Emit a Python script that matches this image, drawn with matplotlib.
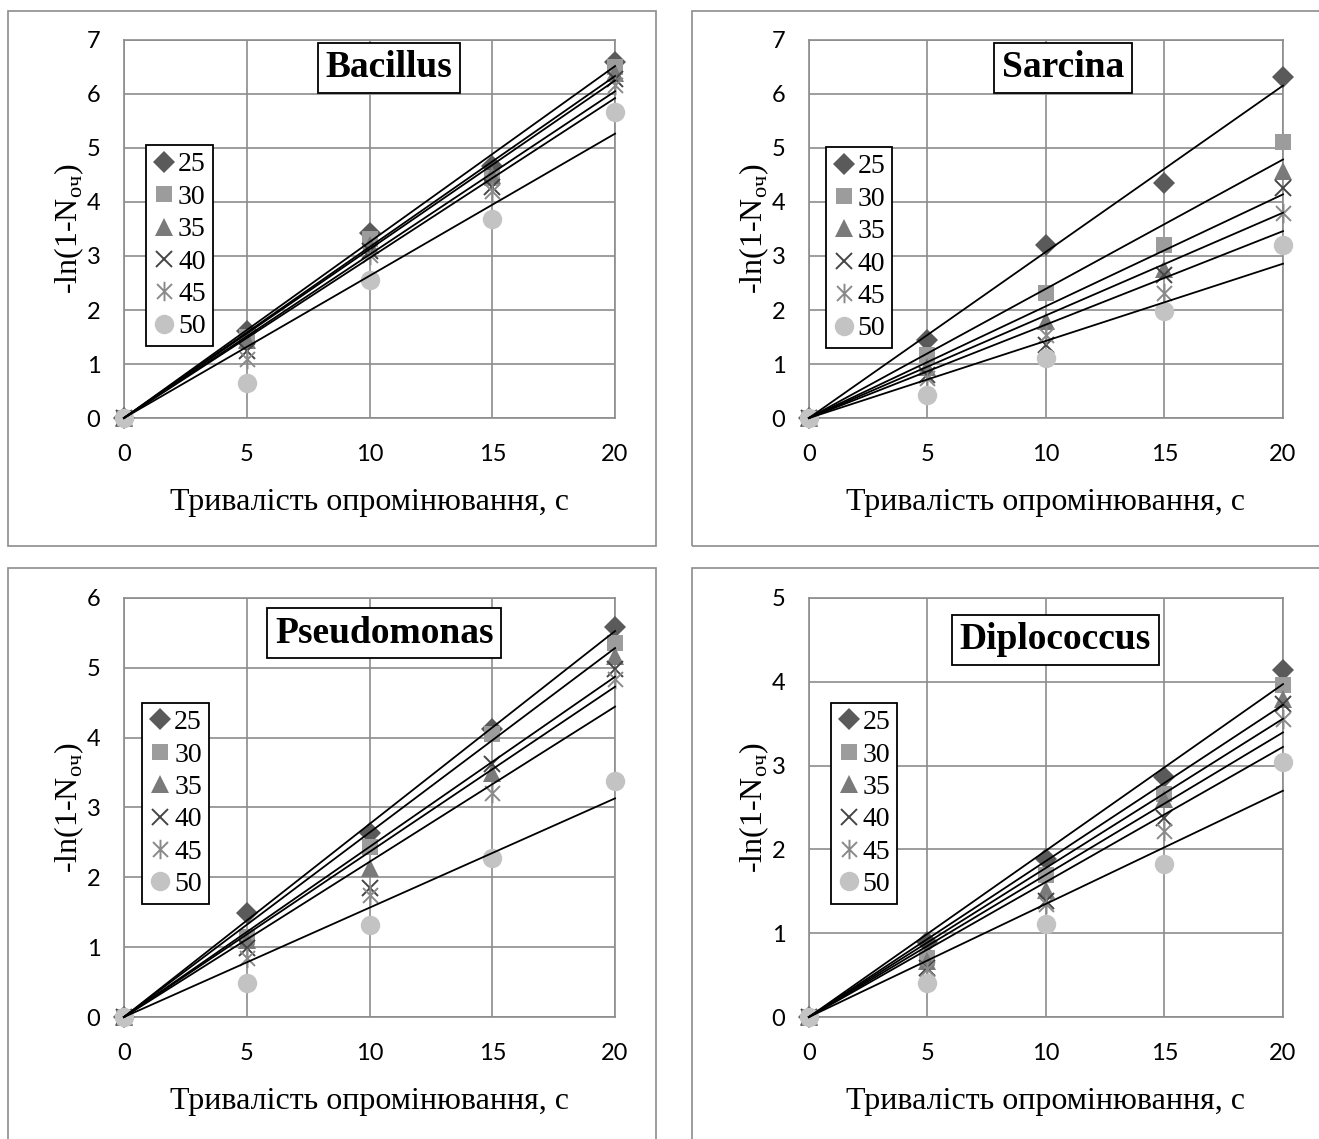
import numpy as np
import matplotlib
matplotlib.use('Agg')
import matplotlib.pyplot as plt
from matplotlib.path import Path
from matplotlib.patches import Rectangle

# exposure time, s
time = [0, 5, 10, 15, 20]
temps = ['25', '30', '35', '40', '45', '50']

bacillus = [
    [0, 1.62, 3.42, 4.67, 6.60],
    [0, 1.50, 3.32, 4.45, 6.50],
    [0, 1.45, 3.20, 4.50, 6.38],
    [0, 1.25, 3.10, 4.28, 6.27],
    [0, 1.10, 3.02, 4.20, 6.17],
    [0, 0.65, 2.56, 3.68, 5.67],
]
sarcina = [
    [0, 1.45, 3.21, 4.35, 6.31],
    [0, 1.17, 2.31, 3.21, 5.12],
    [0, 0.95, 1.79, 2.75, 4.57],
    [0, 0.80, 1.36, 2.65, 4.26],
    [0, 0.74, 1.54, 2.31, 3.80],
    [0, 0.43, 1.11, 1.98, 3.21],
]
pseudomonas = [
    [0, 1.49, 2.64, 4.12, 5.58],
    [0, 1.15, 2.44, 4.05, 5.36],
    [0, 1.10, 2.13, 3.50, 5.17],
    [0, 0.99, 1.85, 3.62, 4.98],
    [0, 0.84, 1.75, 3.21, 4.84],
    [0, 0.48, 1.32, 2.28, 3.38],
]
diplococcus = [
    [0, 0.89, 1.88, 2.86, 4.14],
    [0, 0.71, 1.70, 2.66, 3.96],
    [0, 0.67, 1.51, 2.60, 3.80],
    [0, 0.59, 1.39, 2.38, 3.74],
    [0, 0.57, 1.35, 2.22, 3.56],
    [0, 0.41, 1.11, 1.82, 3.04],
]

panels = [
    ('Bacillus', bacillus, 7, [0.0940, 0.6330, 0.3723, 0.3319], (0.54, 0.926), (0.045, 0.722)),
    ('Sarcina', sarcina, 7, [0.6133, 0.6330, 0.3594, 0.3319], (0.536, 0.926), (0.035, 0.717)),
    ('Pseudomonas', pseudomonas, 6, [0.0940, 0.1071, 0.3723, 0.3679], (0.53, 0.916), (0.037, 0.75)),
    ('Diplococcus', diplococcus, 5, [0.6133, 0.1071, 0.3594, 0.3679], (0.52, 0.90), (0.046, 0.75)),
]

# Excel-style asterisk: x with a vertical bar
star = Path([(-1, -1), (1, 1), (-1, 1), (1, -1), (0, -1.3), (0, 1.3)],
            [Path.MOVETO, Path.LINETO, Path.MOVETO, Path.LINETO, Path.MOVETO, Path.LINETO])
styles = [
    dict(marker='D', color='#5a5a5a', ms=11),
    dict(marker='s', color='#9c9c9c', ms=12),
    dict(marker='^', color='#7a7a7a', ms=13),
    dict(marker='x', color='#454545', ms=12, mew=1.4),
    dict(marker=star, color='#8a8a8a', ms=14, mew=1.4),
    dict(marker='o', color='#c3c3c3', ms=14),
]

serif = 'Liberation Serif'
grid_c = '#8c8c8c'

fig = plt.figure(figsize=(13.19, 11.39), dpi=100)

# outer chart frames
for (x0, y0, x1, y1) in [(8, 11, 656, 546), (692, 11, 1330, 546),
                         (8, 568, 656, 1150), (692, 568, 1330, 1150)]:
    fig.patches.append(Rectangle((x0 / 1319, 1 - y1 / 1139), (x1 - x0) / 1319, (y1 - y0) / 1139,
                                 transform=fig.transFigure, fill=False, edgecolor='#8c8c8c',
                                 linewidth=1.2, clip_on=False))

x = np.array(time, dtype=float)
for name, data, ymax, rect, tpos, leg_pos in panels:
    ax = fig.add_axes(rect)
    handles = []
    for vals, st, lab in zip(data, styles, temps):
        y = np.array(vals)
        kw = dict(linestyle='none', marker=st['marker'], markersize=st['ms'], clip_on=False, zorder=3)
        if st['marker'] == 'x' or isinstance(st['marker'], Path):
            kw.update(markeredgecolor=st['color'], markerfacecolor='none', markeredgewidth=st['mew'])
        else:
            kw.update(markeredgecolor=st['color'], markerfacecolor=st['color'], markeredgewidth=0)
        h, = ax.plot(x, y, label=lab, **kw)
        handles.append(h)
    # linear trendlines through the origin
    for vals in data:
        y = np.array(vals)
        k = np.sum(x * y) / np.sum(x * x)
        ax.plot([0, 20], [0, 20 * k], color='black', linewidth=1.3, zorder=4, clip_on=False)

    ax.set_xlim(0, 20)
    ax.set_ylim(0, ymax)
    ax.set_xticks([0, 5, 10, 15, 20])
    ax.set_yticks(range(0, ymax + 1))
    ax.grid(True, color=grid_c, linewidth=1.2)
    ax.set_axisbelow(True)
    for s in ax.spines.values():
        s.set_color(grid_c)
        s.set_linewidth(1.2)
    ax.tick_params(length=0, labelsize=17)
    ax.tick_params(axis='x', pad=19)
    ax.tick_params(axis='y', pad=17)
    for t in ax.get_xticklabels() + ax.get_yticklabels():
        t.set_fontfamily('Lato')

    ax.set_xlabel('Тривалість опромінювання, с', fontfamily=serif, fontsize=23, labelpad=16)
    ax.set_ylabel('-ln(1-N$_{\\mathregular{оч}}$)', fontfamily=serif, fontsize=23, labelpad=0)

    ax.text(tpos[0], tpos[1], name, transform=ax.transAxes, ha='center', va='center',
            fontfamily=serif, fontsize=27, fontweight='bold', zorder=6,
            bbox=dict(boxstyle='square,pad=0.2', facecolor='white', edgecolor='black', linewidth=1.3))

    leg = ax.legend(handles=handles, loc='upper left', bbox_to_anchor=leg_pos,
                    frameon=True, fancybox=False, borderaxespad=0, handlelength=0.8,
                    handletextpad=0.1, borderpad=0.25, labelspacing=0.25,
                    prop={'family': serif, 'size': 20})
    leg.get_frame().set_edgecolor('black')
    leg.get_frame().set_linewidth(1.3)
    leg.get_frame().set_alpha(1)
    leg.set_zorder(6)

fig.savefig('out.png', dpi=100)
